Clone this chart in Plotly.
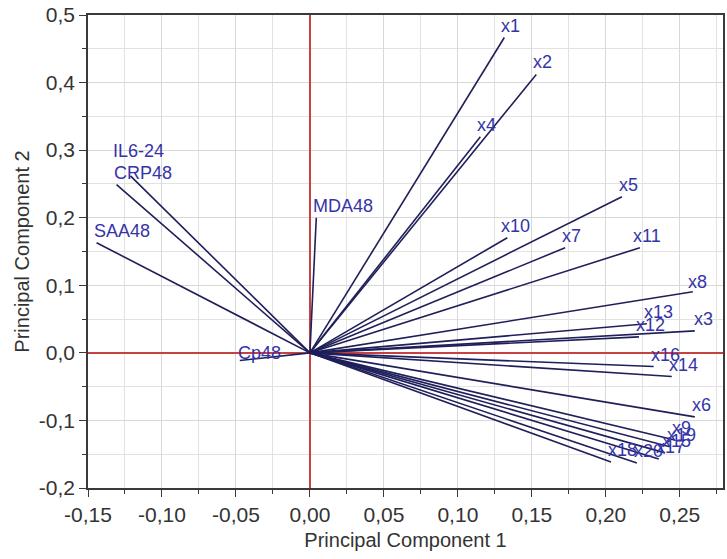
import plotly.graph_objects as go

# Loadings of each variable on the first two principal components
variables = ["x1", "x2", "x4", "x5", "x10", "x7", "x11", "MDA48",
             "IL6-24", "CRP48", "SAA48", "Cp48",
             "x8", "x13", "x12", "x3", "x16", "x14", "x6",
             "x9", "x19", "x15", "x17", "x20", "x18"]
pc1 = [0.1314, 0.1530, 0.1152, 0.2109, 0.1334, 0.1725, 0.2230, 0.0043,
       -0.1213, -0.1307, -0.1442, -0.0474,
       0.2588, 0.2278, 0.2224, 0.2601, 0.2323, 0.2446, 0.2601,
       0.2466, 0.2433, 0.2400, 0.2358, 0.2210, 0.2035]
pc2 = [0.4667, 0.4120, 0.3200, 0.2311, 0.1704, 0.1556, 0.1556, 0.2000,
       0.2620, 0.2490, 0.1630, -0.0114,
       0.0904, 0.0430, 0.0237, 0.0326, -0.0203, -0.0351, -0.0948,
       -0.1290, -0.1390, -0.1480, -0.1570, -0.1630, -0.1615]

# Pixel offsets of each label relative to the tip of its vector
label_dx = {"IL6-24": -19, "Cp48": -4, "x3": -3, "x8": -7, "x11": -9, "x10": -8}
label_dy = {"IL6-24": 25, "Cp48": 8, "x8": 10}

x_ticks = [-0.15, -0.10, -0.05, 0.00, 0.05, 0.10, 0.15, 0.20, 0.25]
y_ticks = [-0.2, -0.1, 0.0, 0.1, 0.2, 0.3, 0.4, 0.5]

line_color = "#1f1f5a"
label_color = "#3434a8"
text_color = "#333333"
font_family = "Liberation Sans, Arial, sans-serif"

# Build all vectors from the origin as one trace separated by gaps
xs, ys = [], []
for px, py in zip(pc1, pc2):
    xs += [0, px, None]
    ys += [0, py, None]

fig = go.Figure()
fig.add_trace(go.Scatter(x=xs, y=ys, mode="lines",
                         line=dict(color=line_color, width=1.6),
                         hoverinfo="skip", showlegend=False))

for name, px, py in zip(variables, pc1, pc2):
    fig.add_annotation(x=px, y=py, text=name, showarrow=False,
                       xanchor="left", yanchor="middle",
                       xshift=label_dx.get(name, -5),
                       yshift=label_dy.get(name, 12),
                       font=dict(family=font_family, size=18, color=label_color))


def fmt(v, nd):
    return f"{v:.{nd}f}".replace(".", ",")


axis_common = dict(
    showline=True, linecolor="#3a3a3a", linewidth=1.5, mirror=True,
    ticks="outside", ticklen=7, tickwidth=1.3, tickcolor="#3a3a3a",
    showgrid=True, gridcolor="#d8d8d8", gridwidth=1,
    zeroline=True, zerolinecolor="#c84040", zerolinewidth=1.6,
    tickfont=dict(family=font_family, size=21, color=text_color),
)

fig.update_xaxes(
    range=[-0.15, 0.2792], tickvals=x_ticks,
    ticktext=[fmt(v, 2) for v in x_ticks],
    minor=dict(dtick=0.025, tick0=0, showgrid=True, gridcolor="#e2e2e2",
               ticks="outside", ticklen=4, tickcolor="#3a3a3a"),
    title=dict(text="Principal Component 1", standoff=8,
               font=dict(family=font_family, size=20, color=text_color)),
    **axis_common)
fig.update_yaxes(
    range=[-0.2, 0.5], tickvals=y_ticks,
    ticktext=[fmt(v, 1) for v in y_ticks],
    minor=dict(dtick=0.05, tick0=0, showgrid=True, gridcolor="#e2e2e2",
               ticks="outside", ticklen=4, tickcolor="#3a3a3a"),
    title=dict(text="Principal Component 2", standoff=4,
               font=dict(family=font_family, size=20, color=text_color)),
    **axis_common)

fig.update_layout(
    width=727, height=559,
    margin=dict(l=88, r=2, t=15, b=71),
    plot_bgcolor="white", paper_bgcolor="white",
    showlegend=False,
)

fig.write_html("out.html")
